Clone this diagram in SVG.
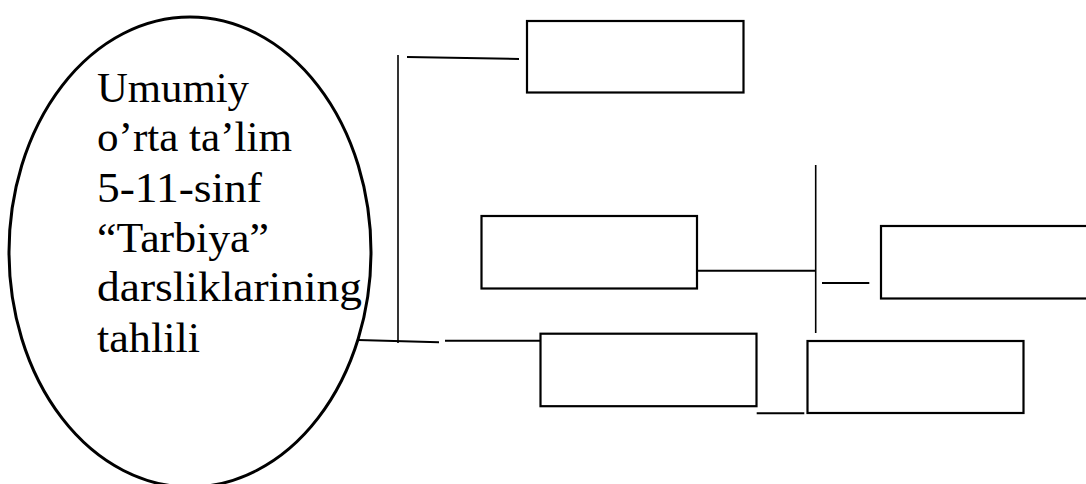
<svg xmlns="http://www.w3.org/2000/svg" width="1086" height="484" viewBox="0 0 1086 484">
<style>
.box{fill:#fff;stroke:#000;stroke-width:2.2}
.ln{fill:none;stroke:#000;stroke-width:2}
.thin{fill:none;stroke:#000;stroke-width:1.6}
.lbl{font-family:"Liberation Serif","DejaVu Serif",serif;font-size:43px;fill:#000}
</style>
<rect width="1086" height="484" fill="#fff"/>
<g id="connectors">
<line class="thin" x1="398" y1="55" x2="398" y2="343"/>
<line class="ln" x1="407" y1="57" x2="519" y2="59"/>
<line class="ln" x1="358" y1="340" x2="439" y2="342.3"/>
<line class="ln" x1="445" y1="340.7" x2="540" y2="340.7"/>
<line class="ln" x1="695" y1="270.7" x2="815.7" y2="270.7"/>
<line class="thin" x1="815.7" y1="165" x2="815.7" y2="333"/>
<line class="ln" x1="822" y1="283" x2="869.3" y2="283"/>
<line class="ln" x1="756.7" y1="413.3" x2="804.3" y2="413.3"/>
</g>
<g id="ellipse-node">
<ellipse cx="190" cy="252" rx="181" ry="235" fill="none" stroke="#000" stroke-width="3"/>
<text class="lbl" x="97" y="102" textLength="152" lengthAdjust="spacingAndGlyphs">Umumiy</text>
<text class="lbl" x="97" y="151" textLength="195" lengthAdjust="spacingAndGlyphs">o’rta ta’lim</text>
<text class="lbl" x="97" y="202" textLength="165" lengthAdjust="spacingAndGlyphs">5-11-sinf</text>
<text class="lbl" x="97" y="252" textLength="172" lengthAdjust="spacingAndGlyphs">“Tarbiya”</text>
<text class="lbl" x="97" y="301" textLength="265" lengthAdjust="spacingAndGlyphs">darsliklarining</text>
<text class="lbl" x="97" y="352" textLength="103" lengthAdjust="spacingAndGlyphs">tahlili</text>
</g>
<g id="box-top"><rect class="box" x="527" y="21" width="216.5" height="71.5"/></g>
<g id="box-mid-left"><rect class="box" x="481.5" y="216" width="215.5" height="72.5"/></g>
<g id="box-right"><rect class="box" x="881" y="226" width="215" height="72.5"/></g>
<g id="box-bottom-left"><rect class="box" x="540.5" y="333.7" width="216" height="72.5"/></g>
<g id="box-bottom-right"><rect class="box" x="807.5" y="341" width="216" height="72"/></g>
</svg>
